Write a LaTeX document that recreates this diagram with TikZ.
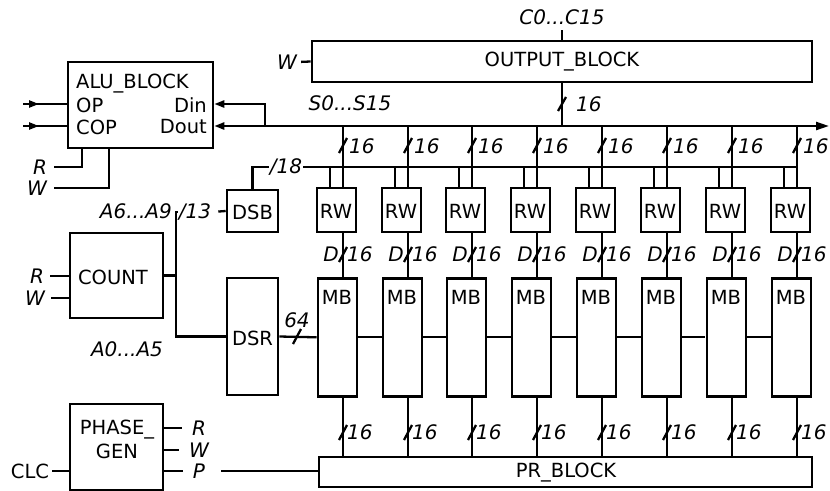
\documentclass[tikz,border=0pt]{standalone}
\usepackage{fontspec}
\setmainfont{DejaVu Sans}
\usetikzlibrary{arrows.meta,calc}
\begin{document}
\begin{tikzpicture}[x=1pt,y=-1pt,
  box/.style={draw,line width=2.6pt,inner sep=0pt},
  wire/.style={line width=2.3pt},
  lbl/.style={font=\fontsize{20}{20}\selectfont\itshape,inner sep=1pt},
  txt/.style={font=\fontsize{19.5}{19.5}\selectfont,inner sep=0pt},
  slashmark/.style={line width=2.3pt},
  tip/.style={-{Triangle[length=10pt,width=7pt]}}
]
\useasboundingbox[fill=white] (0,0) rectangle (830,490);

% ALU block
\node[box,minimum width=145,minimum height=86] (alu) at (140.5,105) {};
\node[txt,anchor=west] at (76,84) {ALU\_BLOCK};
\node[txt,anchor=west] at (76,105) {OP};
\node[txt,anchor=west] at (76,127) {COP};
\node[txt,anchor=east] at (207,105) {Din};
\node[txt,anchor=east] at (207,127) {Dout};
\coordinate (opl) at (23,104);
\coordinate (copl) at (23,126);
\draw[wire] (opl) -- (opl -| alu.west);
\draw[wire] (copl) -- (copl -| alu.west);
\draw[wire,tip] (opl) -- ++(16,0);
\draw[wire,tip] (copl) -- ++(16,0);
\node[lbl] (ra) at (40,167) {R};
\node[lbl] (wa) at (37,188) {W};
\draw[wire,shorten <=6pt] (ra.east) -| ($(alu.south west)+(15,0)$);
\draw[wire,shorten <=6pt] (wa.east) -| ($(alu.south west)+(42,0)$);

% main bus
\coordinate (dj) at (265,126);
\draw[wire,tip] (dj) -- (265,104) -- (alu.east |- 0,104);
\draw[wire,tip] (dj) -- (dj -| alu.east);
\draw[wire,-{Triangle[length=13pt,width=8pt]}] (dj) -- (829,126);
\node[lbl] at (350,103) {S0...S15};

% output block
\node[box,minimum width=500,minimum height=41] (ob) at (562,61.5) {};
\node[txt] at (562,62) {OUTPUT\_BLOCK};
\node[lbl] (cl) at (562,17) {C0...C15};
\draw[wire] (ob.north) -- ++(0,-10);
\node[lbl] (wo) at (287,62) {W};
\draw[wire,shorten <=3pt] (wo.east) -- (ob.west);
\draw[wire] (ob.south) -- (ob.south |- dj);
\draw[slashmark] (558,111) -- (566,97);
\node[lbl,anchor=west] at (575,104) {16};

% columns
\foreach \i/\cx in {0/343,1/408,2/472,3/537,4/602,5/667,6/732,7/797}{
  \coordinate (t\i) at (\cx,126);
  \node[box,minimum width=39,minimum height=44] (rw\i) at (\cx-6.5,210) {};
  \node[txt] at (\cx-7,211) {RW};
  \node[box,minimum width=39,minimum height=118,anchor=north] (mb\i) at (\cx-5.5,277) {};
  \node[txt] at (\cx-6,297) {MB};
  \draw[wire] (t\i) -- (t\i |- rw\i.north);
  \draw[slashmark] (\cx-4,153) -- (\cx+4,138);
  \node[lbl,anchor=west] at (\cx+5,146) {16};
  \draw[wire] (\cx-13,167) -- (\cx-13,188);
  \draw[wire] (rw\i.south -| t\i) -- (mb\i.north -| t\i);
  \draw[slashmark] (\cx-4,262) -- (\cx+4,247);
  \node[lbl,anchor=east] at (\cx-3,254) {D};
  \node[lbl,anchor=west] at (\cx+3,254) {16};
  \draw[wire] (mb\i.south -| t\i) -- (\cx,457);
  \draw[slashmark] (\cx-4,440) -- (\cx+4,425);
  \node[lbl,anchor=west] at (\cx+3,432) {16};
}
\foreach \i/\j in {0/1,1/2,2/3,3/4,4/5,6/7}{
  \draw[wire] (mb\i.east) -- (mb\j.west);
}
\draw[wire] (mb5.east) -- ++(23,0);

% DSB, DSR, COUNT
\node[box,minimum width=51,minimum height=42] (dsb) at (252.5,211) {};
\node[txt] at (252.5,212) {DSB};
\node[box,minimum width=51,minimum height=117] (dsr) at (252.5,336.5) {};
\node[txt] at (252.5,338) {DSR};
\node[lbl] (n18) at (286,167) {/18};
\draw[wire] (dsb.north) |- (n18.west);
\draw[wire] (n18.east) -- (n18.east -| t7);

\node[box,minimum width=93,minimum height=85] (count) at (116.5,275.5) {};
\node[txt] at (113,277) {COUNT};
\node[lbl] (rc) at (37,276) {R};
\node[lbl] (wc) at (35,298) {W};
\draw[wire,shorten <=5pt] (rc.east) -- (rc.east -| count.west);
\draw[wire,shorten <=5pt] (wc.east) -- (wc.east -| count.west);
\coordinate (vt) at (176,212);
\coordinate (vb) at (176,336.5);
\node[lbl] (n13) at (195,212) {/13};
\draw[wire] (n13.west) -- (vt) -- (vb) -- (dsr.west);
\draw[wire] (count.east) -- (count.east -| vt);
\draw[wire,shorten <=6pt] (n13.east) -- (dsb.west);
\node[lbl,anchor=east] at (173,211) {A6...A9};
\node[lbl] at (127,349) {A0...A5};
\draw[wire] (dsr.east) -- (mb0.west);
\draw[slashmark] (293,344) -- (301,329);
\node[lbl] at (297,320) {64};

% phase gen and PR block
\node[box,minimum width=93,minimum height=86] (ph) at (116.5,447) {};
\node[txt] at (117,430) {PHASE\_};
\node[txt] at (117,451) {GEN};
\node[box,minimum width=493,minimum height=30] (pr) at (565.5,472) {};
\node[txt] at (566,473) {PR\_BLOCK};
\node[lbl] (rp) at (199,428) {R};
\node[lbl] (wp) at (199,450) {W};
\node[lbl] (pp) at (199,471) {P};
\draw[wire,shorten >=9pt] (rp.west -| ph.east) -- (rp.west);
\draw[wire,shorten >=9pt] (wp.west -| ph.east) -- (wp.west);
\draw[wire,shorten >=9pt] (pp.west -| ph.east) -- (pp.west);
\draw[wire,shorten <=15pt] (pp.east) -- (pp.east -| pr.west);
\node[txt] (clc) at (30,471) {CLC};
\draw[wire,shorten <=3pt] (clc.east) -- (clc.east -| ph.west);
\end{tikzpicture}
\end{document}
